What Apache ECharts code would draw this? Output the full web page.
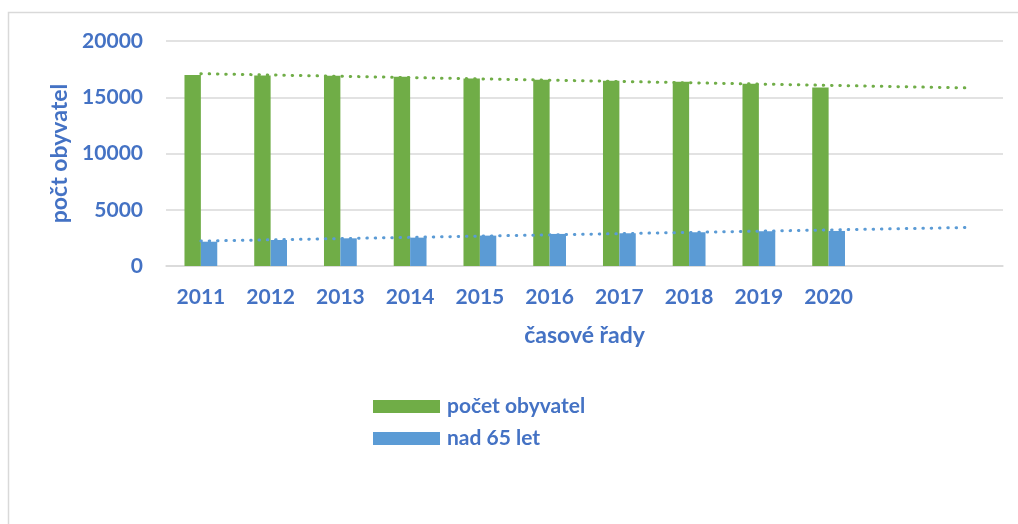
<!DOCTYPE html>
<html>
<head>
<meta charset="utf-8">
<script src="https://cdn.jsdelivr.net/npm/echarts@6/dist/echarts.min.js"></script>
<style>
  html, body { margin: 0; padding: 0; background: #fff; }
  #chart { width: 1018px; height: 524px; }
</style>
</head>
<body>
<div id="chart"></div>
<script>
// roky (+ dvě prázdné kategorie pro prodloužení trendu)
const years = ['2011', '2012', '2013', '2014', '2015', '2016', '2017', '2018', '2019', '2020', '', ''];
const population = [16970, 16940, 16910, 16820, 16670, 16550, 16460, 16370, 16200, 15870];
const over65 = [2160, 2310, 2460, 2520, 2700, 2850, 2910, 3000, 3090, 3115];
const yTicks = [0, 5000, 10000, 15000, 20000];

const BLUE_TEXT = '#4472C4';
const GREEN = '#70AD47';
const BLUE = '#5B9BD5';
const FONT = 'Lato';

// lineární trend (jako v Excelu), prodloužený o 2 období dopředu
function linearTrend(values, length) {
  const n = values.length;
  let sx = 0, sy = 0, sxy = 0, sxx = 0;
  values.forEach((v, i) => {
    sx += i; sy += v; sxy += i * v; sxx += i * i;
  });
  const slope = (n * sxy - sx * sy) / (n * sxx - sx * sx);
  const intercept = (sy - slope * sx) / n;
  const out = [];
  for (let i = 0; i < length; i++) out.push(+(intercept + slope * i).toFixed(1));
  return out;
}

const chart = echarts.init(document.getElementById('chart'));

const labelStyle = { color: BLUE_TEXT, fontFamily: FONT, fontWeight: 'bold', fontSize: 21 };
const nameStyle = { color: BLUE_TEXT, fontFamily: FONT, fontWeight: 'bold', fontSize: 23 };
const dotted = (color) => ({ color, width: 3, type: [0.5, 7.8], cap: 'round' });

chart.setOption({
  animation: false,
  backgroundColor: '#fff',
  graphic: [{
    type: 'rect',
    shape: { x: 8.5, y: 12.5, width: 1100, height: 600 },
    style: { fill: 'none', stroke: '#d9d9d9', lineWidth: 1.5 },
    silent: true
  }],
  grid: { left: 166, right: 15, top: 41, bottom: 258 },
  legend: {
    data: ['počet obyvatel', 'nad 65 let'],
    orient: 'vertical',
    left: 368,
    top: 391,
    itemWidth: 67,
    itemHeight: 13,
    itemGap: 11,
    icon: 'rect',
    textStyle: Object.assign({ padding: [0, 0, 0, 2] }, labelStyle)
  },
  xAxis: {
    type: 'category',
    data: years,
    name: 'časové řady',
    nameLocation: 'middle',
    nameGap: 58,
    nameTextStyle: nameStyle,
    axisLine: { lineStyle: { color: '#d9d9d9', width: 1.5 } },
    axisTick: { show: false },
    axisLabel: Object.assign({ margin: 21, interval: 0 }, labelStyle)
  },
  yAxis: {
    type: 'value',
    min: yTicks[0],
    max: yTicks[yTicks.length - 1],
    interval: yTicks[1] - yTicks[0],
    name: 'počt obyvatel',
    nameLocation: 'middle',
    nameGap: 91,
    nameTextStyle: nameStyle,
    axisLine: { show: false },
    axisTick: { show: false },
    splitLine: { lineStyle: { color: '#d9d9d9', width: 1.5 } },
    axisLabel: Object.assign({ margin: 23, formatter: (v) => String(v) }, labelStyle)
  },
  series: [
    {
      name: 'počet obyvatel',
      type: 'bar',
      data: population,
      itemStyle: { color: GREEN },
      barGap: '0%',
      barCategoryGap: '53%'
    },
    {
      name: 'nad 65 let',
      type: 'bar',
      data: over65,
      itemStyle: { color: BLUE }
    },
    {
      name: 'trend počet obyvatel',
      type: 'line',
      data: linearTrend(population, years.length),
      symbol: 'none',
      lineStyle: dotted(GREEN),
      z: 5
    },
    {
      name: 'trend nad 65 let',
      type: 'line',
      data: linearTrend(over65, years.length),
      symbol: 'none',
      lineStyle: dotted(BLUE),
      z: 5
    }
  ]
});
</script>
</body>
</html>
